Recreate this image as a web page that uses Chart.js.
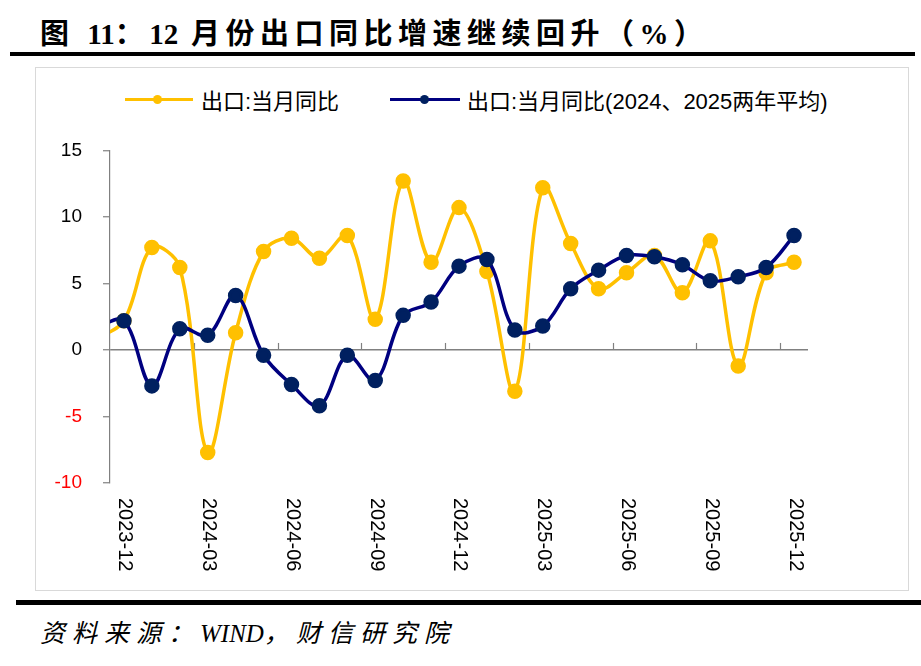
<!DOCTYPE html>
<html>
<head>
<meta charset="utf-8">
<script src="https://cdn.jsdelivr.net/npm/chart.js@4.4.1/dist/chart.umd.min.js"></script>
<style>
  html, body { margin: 0; padding: 0; background: #fff; }
  body { width: 921px; height: 666px; position: relative; overflow: hidden; }
  .title {
    position: absolute; left: 40px; top: 10px; line-height: 32px; letter-spacing: 5.5px;
    font: bold 29px "Liberation Serif", "Noto Sans CJK SC", serif; color: #000; white-space: nowrap;
  }
  .tight { letter-spacing: 0; }
  .rule { position: absolute; background: #000; }
  .box { position: absolute; left: 35px; top: 67px; width: 872px; height: 522px; border: 1px solid #d9d9d9; }
  .legend { position: absolute; font: 22px "Liberation Sans", "Noto Sans CJK SC", sans-serif; color: #000; white-space: nowrap; line-height: 26px; }
  .swatch { position: absolute; height: 3px; }
  .dot { position: absolute; width: 9px; height: 9px; border-radius: 50%; }
  .chart-wrap { position: absolute; left: 35px; top: 118px; width: 873px; height: 467px; }
  .chart-wrap canvas { display: block; }
  .source {
    position: absolute; left: 40px; top: 613px; line-height: 30px; letter-spacing: 7px;
    font: italic 25px "Liberation Serif", "Noto Sans CJK SC", serif; color: #000; white-space: nowrap;
  }
</style>
</head>
<body>
<div class="title">图 <span class="tight">11</span>：<span class="tight">12</span> 月份出口同比增速继续回升（%）</div>
<div class="rule" style="left:10px; top:52px; width:905px; height:4px;"></div>
<div class="box"></div>

<div class="swatch" style="left:125px; top:98px; width:68px; background:#FFC000;"></div>
<div class="dot" style="left:153px; top:95px; background:#FFC000;"></div>
<div class="legend" style="left:201px; top:89px;">出口:当月同比</div>

<div class="swatch" style="left:390px; top:98px; width:70px; background:#000080;"></div>
<div class="dot" style="left:420px; top:95px; background:#002060;"></div>
<div class="legend" style="left:467px; top:89px;">出口:当月同比(2024、2025两年平均)</div>

<div class="chart-wrap"><canvas id="chart" width="873" height="467"></canvas></div>

<div class="rule" style="left:16px; top:600px; width:905px; height:5px;"></div>
<div class="source">资料来源：<span class="tight">WIND</span>，财信研究院</div>

<script>
// monthly categories (2023-11 sits just outside the left edge, only its segment shows)
const months = [
	'2023-11', '2023-12',
	'2024-01', '2024-02', '2024-03', '2024-04', '2024-05', '2024-06',
	'2024-07', '2024-08', '2024-09', '2024-10', '2024-11', '2024-12',
	'2025-01', '2025-02', '2025-03', '2025-04', '2025-05', '2025-06',
	'2025-07', '2025-08', '2025-09', '2025-10', '2025-11', '2025-12',
];

// 出口:当月同比
const exportYoy = [
	0.8, 2.2,
	7.7, 6.2, -7.7, 1.3, 7.4, 8.4,
	6.9, 8.6, 2.3, 12.7, 6.6, 10.7,
	5.9, -3.1, 12.2, 8.0, 4.6, 5.8,
	7.1, 4.3, 8.2, -1.2, 5.8, 6.6,
];

// 出口:当月同比(2024、2025两年平均)
const exportYoyTwoYearAvg = [
	1.7, 2.2,
	-2.7, 1.6, 1.1, 4.1, -0.4, -2.6,
	-4.2, -0.4, -2.3, 2.6, 3.6, 6.3,
	6.8, 1.5, 1.8, 4.6, 6.0, 7.1,
	7.0, 6.4, 5.2, 5.5, 6.2, 8.6,
];

const xTickLabels = [ '2023-12', '2024-03', '2024-06', '2024-09', '2024-12', '2025-03', '2025-06', '2025-09', '2025-12' ];
const yTicks = [ -10, -5, 0, 5, 10, 15 ];

const AXIS_GREY = '#808080';
const FONT = '"Liberation Sans", "Noto Sans CJK SC", sans-serif';

// x axis: quarter tick marks on the zero line, vertical labels under the plot
const monthAxis = {
	id: 'monthAxis',
	beforeDatasetsDraw( chart ) {
		const { ctx, scales: { x, y } } = chart;
		const half = ( x.getPixelForValue( 1 ) - x.getPixelForValue( 0 ) ) / 2;
		const y0 = y.getPixelForValue( 0 );
		ctx.save();
		ctx.strokeStyle = AXIS_GREY;
		ctx.lineWidth = 1.2;
		xTickLabels.slice( 1 ).forEach( ( label ) => {
			const px = Math.round( x.getPixelForValue( months.indexOf( label ) ) - half ) + 0.5;
			ctx.beginPath();
			ctx.moveTo( px, y0 );
			ctx.lineTo( px, y0 - 7 );
			ctx.stroke();
		} );
		ctx.restore();
	},
	afterDraw( chart ) {
		const { ctx, chartArea, scales: { x } } = chart;
		ctx.save();
		ctx.fillStyle = '#000';
		ctx.font = '20px ' + FONT;
		ctx.textAlign = 'left';
		ctx.textBaseline = 'middle';
		xTickLabels.forEach( ( label ) => {
			const px = x.getPixelForValue( months.indexOf( label ) );
			ctx.save();
			ctx.translate( px + 1, chartArea.bottom + 15 );
			ctx.rotate( Math.PI / 2 );
			ctx.fillText( label, 0, 0 );
			ctx.restore();
		} );
		ctx.restore();
	},
};

Chart.defaults.font.family = FONT;

new Chart( document.getElementById( 'chart' ), {
	type: 'line',
	data: {
		labels: months,
		datasets: [
			{
				label: '出口:当月同比(2024、2025两年平均)',
				data: exportYoyTwoYearAvg,
				borderColor: '#000080',
				backgroundColor: '#002060',
				pointBackgroundColor: '#002060',
				pointBorderColor: '#002060',
				borderWidth: 3.5,
				pointRadius: 6,
				tension: 0.35,
				clip: 0,
				order: 1,
			},
			{
				label: '出口:当月同比',
				data: exportYoy,
				borderColor: '#FFC000',
				backgroundColor: '#FFC000',
				pointBackgroundColor: '#FFC000',
				pointBorderColor: '#FFC000',
				borderWidth: 3.5,
				pointRadius: 6,
				tension: 0.35,
				clip: 0,
				order: 2,
			},
		],
	},
	options: {
		responsive: false,
		animation: false,
		layout: {
			padding: { top: 17, right: 100, bottom: 0, left: 0 },
		},
		plugins: {
			legend: { display: false },
			tooltip: { enabled: false },
		},
		scales: {
			x: {
				type: 'category',
				min: '2023-12',
				max: '2025-12',
				offset: true,
				grid: { display: false },
				border: { display: false },
				ticks: { display: false },
				afterFit( scale ) {
					scale.height = 102;
				},
			},
			y: {
				min: yTicks[ 0 ],
				max: yTicks[ yTicks.length - 1 ],
				afterBuildTicks( scale ) {
					scale.ticks = yTicks.map( ( v ) => ( { value: v } ) );
				},
				ticks: {
					padding: 21,
					font: { size: 19 },
					color: ( c ) => ( c.tick.value < 0 ? '#FF0000' : '#000' ),
				},
				grid: {
					color: ( c ) => ( c.tick && c.tick.value === 0 ? AXIS_GREY : 'rgba(0,0,0,0)' ),
					lineWidth: 1.5,
					tickColor: AXIS_GREY,
					tickLength: 7,
					tickWidth: 1.2,
				},
				border: { color: AXIS_GREY, width: 1.2 },
				afterFit( scale ) {
					scale.width = 75;
				},
			},
		},
	},
	plugins: [ monthAxis ],
} );
</script>
</body>
</html>
